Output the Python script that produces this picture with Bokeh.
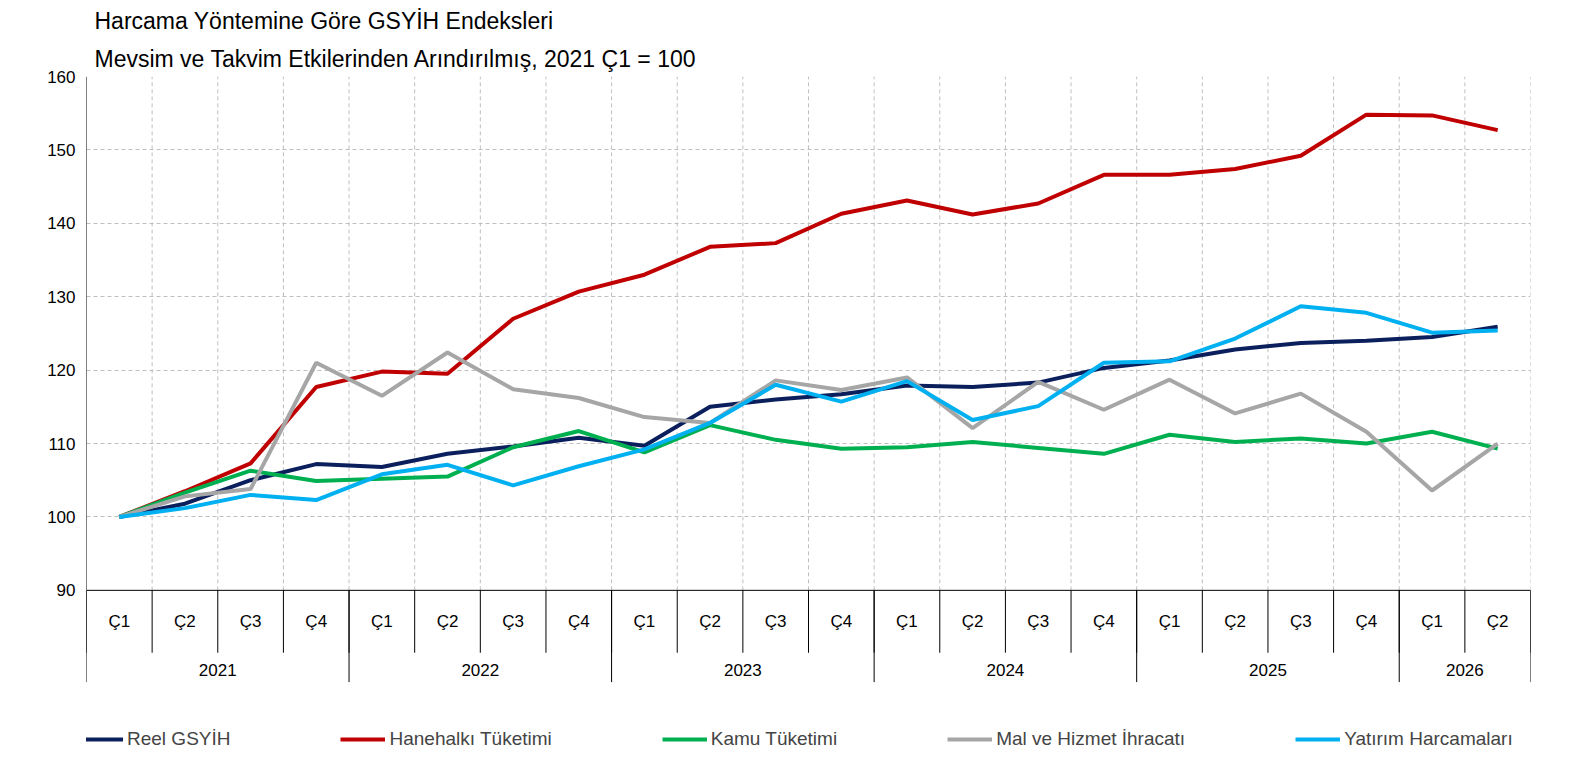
from bokeh.plotting import figure
from bokeh.models import Range1d, FixedTicker, Legend, LegendItem, Title
from bokeh.core.properties import value
from bokeh.embed import file_html
from bokeh.resources import INLINE

years = ["2021", "2022", "2023", "2024", "2025", "2026"]
quarters_per_year = [4, 4, 4, 4, 4, 2]
quarter_labels = ["Ç1", "Ç2", "Ç3", "Ç4"]

reel = [100, 101.8, 105, 107.2, 106.8, 108.6, 109.6, 110.8, 109.7, 115, 116, 116.7, 117.9, 117.7, 118.3, 120.3, 121.3, 122.8, 123.7, 124, 124.5, 125.9]
hane = [100, 103.5, 107.3, 117.7, 119.8, 119.5, 127, 130.7, 133, 136.8, 137.3, 141.3, 143.1, 141.2, 142.7, 146.6, 146.6, 147.4, 149.2, 154.8, 154.7, 152.7]
kamu = [100, 103.3, 106.3, 104.9, 105.2, 105.5, 109.5, 111.7, 108.8, 112.5, 110.5, 109.3, 109.5, 110.2, 109.4, 108.6, 111.2, 110.2, 110.7, 110, 111.6, 109.3]
ihracat = [100, 102.8, 103.8, 121, 116.5, 122.4, 117.4, 116.2, 113.6, 112.8, 118.6, 117.3, 119, 112.1, 118.4, 114.6, 118.7, 114.1, 116.8, 111.6, 103.6, 110]
yatirim = [100, 101.2, 103, 102.3, 105.8, 107.1, 104.3, 106.9, 109.2, 112.8, 118, 115.7, 118.5, 113.2, 115.1, 121, 121.2, 124.3, 128.7, 127.8, 125.1, 125.4]

series = [("Reel GSYİH", reel, "#0B1F5C"), ("Hanehalkı Tüketimi", hane, "#C00000"),
          ("Kamu Tüketimi", kamu, "#00B050"), ("Mal ve Hizmet İhracatı", ihracat, "#A6A6A6"),
          ("Yatırım Harcamaları", yatirim, "#00B0F0")]

n = len(reel)
xs = [i + 0.5 for i in range(n)]
FONT = "Liberation Sans"

p = figure(width=1556, height=770, output_backend="svg", toolbar_location=None,
           x_range=Range1d(0, n), y_range=Range1d(66, 160),
           min_border_left=86, min_border_right=26, min_border_top=4, min_border_bottom=4)
p.outline_line_color = None
p.xaxis.visible = False
p.yaxis.ticker = FixedTicker(ticks=list(range(90, 161, 10)))
p.yaxis.major_tick_line_color = None
p.yaxis.minor_tick_line_color = None
p.yaxis.axis_line_color = None
p.yaxis.major_label_text_font = FONT
p.yaxis.major_label_text_font_size = "17px"
p.yaxis.major_label_text_color = "black"
p.ygrid.ticker = FixedTicker(ticks=list(range(100, 161, 10)))
p.ygrid.grid_line_color = "#BFBFBF"
p.ygrid.grid_line_dash = "4 3"
p.xgrid.visible = False

p.segment(x0=list(range(1, n + 1)), y0=[90] * n, x1=list(range(1, n + 1)), y1=[160] * n,
          line_color="#BFBFBF", line_dash="4 3", line_width=1)
p.segment(x0=[0, 0], y0=[90, 90], x1=[n, 0], y1=[90, 160], line_color="black", line_width=1)

qx, ql = [], []
k = 0
year_bounds = [0]
year_centers = []
for yi, cnt in enumerate(quarters_per_year):
    start = k
    for q in range(cnt):
        qx.append(k + 0.5)
        ql.append(quarter_labels[q])
        k += 1
    year_bounds.append(k)
    year_centers.append((start + k) / 2)
p.segment(x0=list(range(0, n + 1)), y0=[90] * (n + 1), x1=list(range(0, n + 1)), y1=[81.5] * (n + 1),
          line_color="black", line_width=1)
p.segment(x0=year_bounds, y0=[90] * len(year_bounds), x1=year_bounds, y1=[77.5] * len(year_bounds),
          line_color="black", line_width=1)
p.text(x=qx, y=[85.7] * n, text=ql, text_align="center", text_baseline="middle",
       text_font=value(FONT), text_font_size="17px", text_color="black")
p.text(x=year_centers, y=[79.2] * len(years), text=years, text_align="center", text_baseline="middle",
       text_font=value(FONT), text_font_size="17px", text_color="black")

items = []
for name, vals, col in series:
    r = p.line(xs, vals, line_color=col, line_width=4)
    items.append(LegendItem(label=name, renderers=[r]))

legend = Legend(items=items, orientation="horizontal", location=(-8, 16),
                label_text_font=FONT, label_text_font_size="19px", spacing=110,
                border_line_color=None, background_fill_alpha=0, glyph_width=45,
                label_standoff=4, padding=4)
p.add_layout(legend, "center")

p.add_layout(Title(text="Mevsim ve Takvim Etkilerinden Arındırılmış, 2021 Ç1 = 100", text_color="black",
                   text_font=FONT, text_font_size="23px", text_font_style="normal", offset=8), "above")
p.add_layout(Title(text="Harcama Yöntemine Göre GSYİH Endeksleri", text_color="black",
                   text_font=FONT, text_font_size="23px", text_font_style="normal", offset=8), "above")

open("out.html", "w").write(file_html(p, INLINE))
